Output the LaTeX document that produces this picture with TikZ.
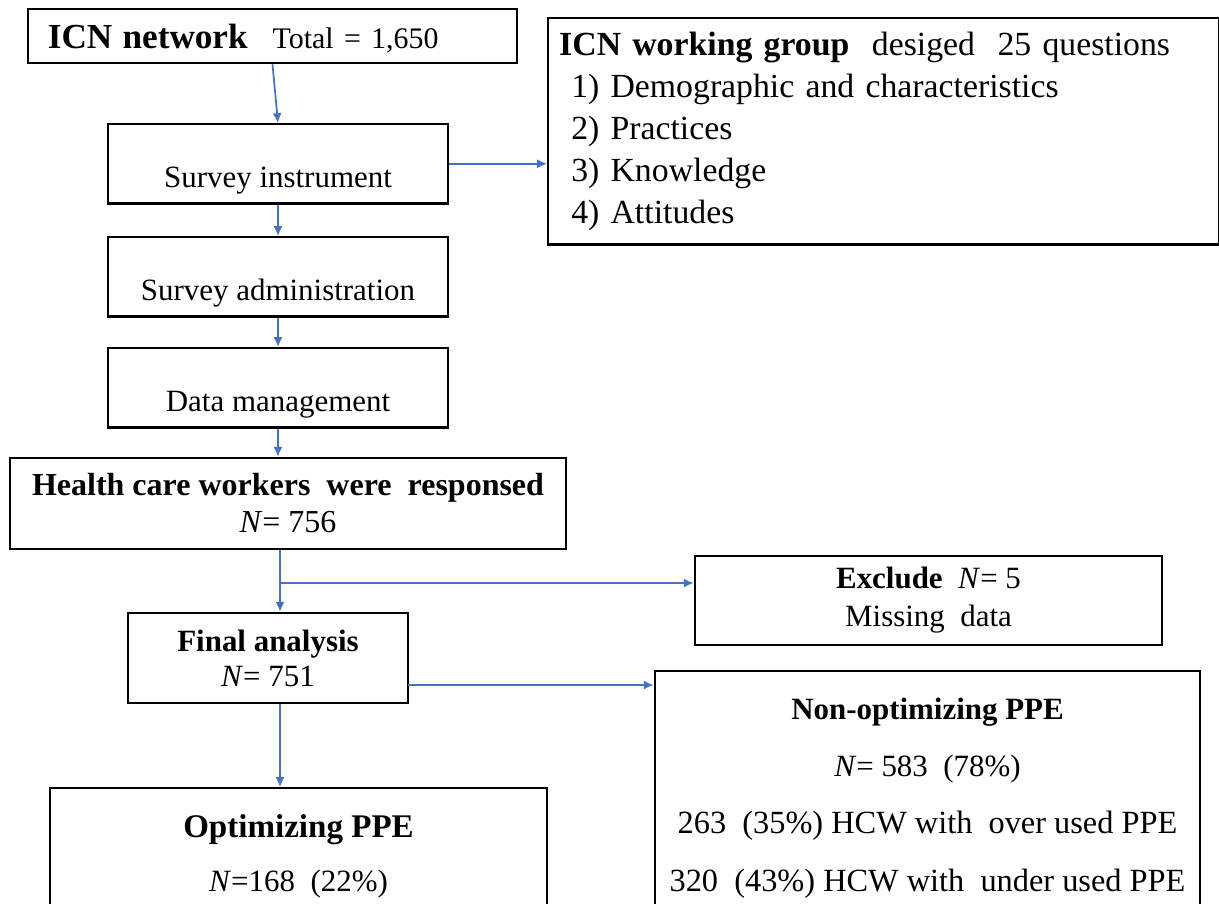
\documentclass[tikz,border=0pt]{standalone}
\usepackage{fontspec}
\setmainfont{Liberation Serif}
\usetikzlibrary{arrows.meta}
\definecolor{flowblue}{RGB}{68,114,196}
\tikzset{
  box/.style={draw, line width=0.7pt, inner sep=0pt, align=center, font=\fontsize{8.8}{10.5}\selectfont},
  stage/.style={box, anchor=north, minimum width=3.4cm, text height=0.63cm, text depth=0.16cm},
  flow/.style={draw=flowblue, line width=0.5pt, -{Latex[length=2.8pt,width=2.6pt]}}
}
\begin{document}
\begin{tikzpicture}[x=0.01cm, y=-0.01cm]
            \useasboundingbox (0,0) rectangle (1219,903);
            \clip (0,0) rectangle (1219,903);

            %boxes
            \node (net) at (272.5,36) [box, align=left, text width=4.49cm, inner xsep=0.2cm, text height=0.39cm, text depth=0.15cm] {{\fontsize{10}{12}\selectfont\textbf{ICN network}}\hspace{0.25cm}{\fontsize{8.5}{10}\selectfont Total = 1,650}};
            \node (inst) at (278,123) [stage] {Survey instrument};
            \node (admin) at (278,236) [stage] {Survey administration};
            \node (datam) at (278,347) [stage] {Data management};
            \node (qbox) at (547,17) [box, anchor=north west, align=left, text width=6.49cm, inner xsep=0.11cm, minimum height=2.26cm, font=\fontsize{9.6}{11.9}\selectfont] {\textbf{ICN working group}\ \ desiged\ \ 25 questions\\
              \hspace*{0.12cm}1) Demographic and characteristics\\
              \hspace*{0.12cm}2) Practices\\
              \hspace*{0.12cm}3) Knowledge\\
              \hspace*{0.12cm}4) Attitudes};
            \node (hcw) at (288,503.5) [box, minimum width=5.56cm, minimum height=0.91cm, font=\fontsize{9.1}{10.5}\selectfont] {\textbf{Health care workers\ \ were\ \ responsed}\\\textit{N}= 756};
            \node (excl) at (928.5,600.5) [box, minimum width=4.67cm, minimum height=0.89cm, font=\fontsize{8.8}{10.8}\selectfont] {\textbf{Exclude}\ \ \textit{N}= 5\\Missing\ \ data};
            \node (final) at (268,658) [box, minimum width=2.8cm, minimum height=0.9cm, font=\fontsize{8.8}{10}\selectfont] {\textbf{Final analysis}\\\textit{N}= 751};
            \node (opt) at (298.5,787) [box, anchor=north, minimum width=4.97cm, minimum height=1.36cm, font=\fontsize{8.8}{15.4}\selectfont] {{\fontsize{9.4}{15.4}\selectfont\textbf{Optimizing PPE}}\\\textit{N}=168\ \ (22\%)};
            \node (nonopt) at (927.5,670) [box, anchor=north, minimum width=5.45cm, minimum height=2.53cm, font=\fontsize{8.8}{16.3}\selectfont] {\textbf{Non-optimizing PPE}\\\textit{N}= 583\ \ (78\%)\\
              {\fontsize{9.2}{16.3}\selectfont 263\ \ (35\%) HCW with\ \ over used PPE}\\
              {\fontsize{9.2}{16.3}\selectfont 320\ \ (43\%) HCW with\ \ under used PPE}};

            %arrows
            \coordinate (split) at (280,583);
            \coordinate (side) at (408,685);
            \draw[flow] (net.south) -- (inst.north);
            \draw[flow] (inst.south) -- (admin.north);
            \draw[flow] (admin.south) -- (datam.north);
            \draw[flow] (datam.south) -- (datam.south |- hcw.north);
            \draw[flow] (inst.east) -- (inst.east -| qbox.west);
            \draw[flow] (hcw.south -| split) -- (split |- final.north);
            \draw[flow] (split) -- (split -| excl.west);
            \draw[flow] (final.south -| split) -- (split |- opt.north);
            \draw[flow] (side) -- (side -| nonopt.west);

    \end{tikzpicture}
\end{document}
